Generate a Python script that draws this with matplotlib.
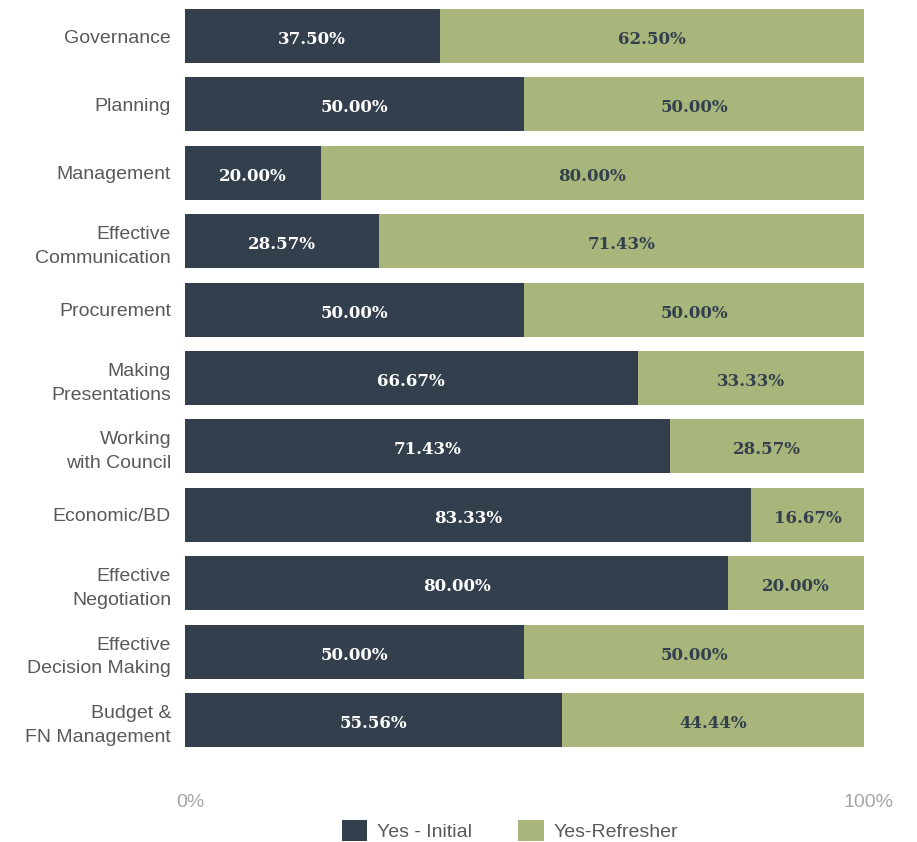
import numpy as np
import matplotlib.pyplot as plt
import matplotlib.transforms as mtransforms

# Training topics and the share of "Yes" answers by type
categories = ["Governance", "Planning", "Management", "Effective\nCommunication",
              "Procurement", "Making\nPresentations", "Working\nwith Council",
              "Economic/BD", "Effective\nNegotiation", "Effective\nDecision Making",
              "Budget &\nFN Management"]
initial = [37.50, 50.00, 20.00, 28.57, 50.00, 66.67, 71.43, 83.33, 80.00, 50.00, 55.56]
refresher = [62.50, 50.00, 80.00, 71.43, 50.00, 33.33, 28.57, 16.67, 20.00, 50.00, 44.44]

dark = "#333f4c"
green = "#a8b67c"

fig = plt.figure(figsize=(9.17, 8.42), dpi=100)
ax = fig.add_axes([0.2017, 0.1128, 0.7405, 0.8765])

y = np.arange(len(categories))
h = 0.79
b1 = ax.barh(y, initial, height=h, color=dark, label="Yes - Initial")
b2 = ax.barh(y, refresher, left=initial, height=h, color=green, label="Yes-Refresher")

for i in range(len(categories)):
    ax.text(initial[i] / 2, y[i] + 0.05, f"{initial[i]:.2f}%", ha="center", va="center",
            color="white", fontsize=12, fontweight="bold", family="DejaVu Serif")
    ax.text(initial[i] + refresher[i] / 2, y[i] + 0.05, f"{refresher[i]:.2f}%",
            ha="center", va="center", color=dark, fontsize=12, fontweight="bold",
            family="DejaVu Serif")

ax.set_xlim(0, 100)
ax.set_ylim(len(categories) - 1 + h / 2, -h / 2)
ax.set_yticks(y)
ax.set_yticklabels(categories, fontsize=14, color="#595959", family="Liberation Sans",
                   linespacing=1.5)
ax.set_xticks([0, 100])
ax.set_xticklabels(["0%", "100%"], fontsize=14, color="#a6a6a6", family="Liberation Sans")
ax.tick_params(axis="y", length=0, pad=10)
ax.tick_params(axis="x", length=0, pad=34)
# nudge the percent ticks a little to the right
shift = mtransforms.ScaledTranslation(5 / 100, 0, fig.dpi_scale_trans)
for lbl in ax.get_xticklabels():
    lbl.set_transform(lbl.get_transform() + shift)
for s in ax.spines.values():
    s.set_visible(False)

fig.legend(handles=[b1, b2], loc="lower center", bbox_to_anchor=(0.556, -0.02), ncol=2,
           frameon=False, prop={"family": "Liberation Sans", "size": 14},
           labelcolor="#595959", handlelength=1.3, handleheight=1.3,
           handletextpad=0.5, columnspacing=2.4)

fig.savefig("out.png", dpi=100)
